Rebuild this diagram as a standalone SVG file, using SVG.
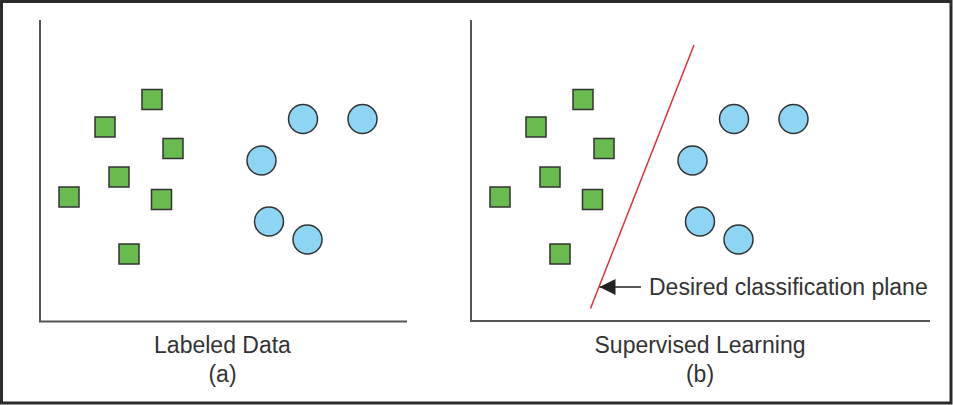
<svg xmlns="http://www.w3.org/2000/svg" width="953" height="405" viewBox="0 0 953 405">
<defs>
<style>
.frame{fill:#fff;stroke:#2b2b2b;stroke-width:3}
.axis{fill:none;stroke:#555;stroke-width:2}
.sq{fill:#6abb4f;stroke:#333;stroke-width:1.5}
.ci{fill:#8dd5f3;stroke:#333;stroke-width:1.5}
.lbl{font-family:"Liberation Sans",Arial,sans-serif;font-size:23px;fill:#333}
.sep{fill:none;stroke:#e0303a;stroke-width:1.5}
.ptr{fill:none;stroke:#222;stroke-width:1.5}
</style>
<marker id="ah" viewBox="0 0 10 10" refX="10" refY="5" markerWidth="10" markerHeight="10" markerUnits="userSpaceOnUse" orient="auto">
<path d="M0,0 L10,5 L0,10 Z" fill="#222"/>
</marker>
<marker id="ahb" viewBox="0 0 16 16" refX="16" refY="8" markerWidth="16" markerHeight="16" markerUnits="userSpaceOnUse" orient="auto">
<path d="M0,0 L16,8 L0,16 Z" fill="#222"/>
</marker>
</defs>
<rect class="frame" x="1.5" y="1.5" width="949.5" height="401.5"/>

<g id="panel-a">
<g id="axes-a"><path class="axis" d="M40,20 V321.5 H407"/></g>
<g id="a-sq1"><rect class="sq" x="142" y="89.5" width="20" height="20"/></g>
<g id="a-sq2"><rect class="sq" x="95" y="117" width="20" height="20"/></g>
<g id="a-sq3"><rect class="sq" x="163" y="138.5" width="20" height="20"/></g>
<g id="a-sq4"><rect class="sq" x="109" y="167" width="20" height="20"/></g>
<g id="a-sq5"><rect class="sq" x="59" y="187" width="20" height="20"/></g>
<g id="a-sq6"><rect class="sq" x="151.5" y="189.5" width="20" height="20"/></g>
<g id="a-sq7"><rect class="sq" x="119" y="244" width="20" height="20"/></g>
<g id="a-c1"><circle class="ci" cx="303" cy="119" r="14.5"/></g>
<g id="a-c2"><circle class="ci" cx="362.5" cy="119" r="14.5"/></g>
<g id="a-c3"><circle class="ci" cx="261.5" cy="160.5" r="14.5"/></g>
<g id="a-c4"><circle class="ci" cx="269" cy="221.5" r="14.5"/></g>
<g id="a-c5"><circle class="ci" cx="307.5" cy="239.5" r="14.5"/></g>
<text class="lbl" x="222.5" y="353" text-anchor="middle">Labeled Data</text>
<text class="lbl" x="222.5" y="382" text-anchor="middle">(a)</text>
</g>

<g id="panel-b">
<g id="axes-b"><path class="axis" d="M471,20 V321 H930"/></g>
<g id="b-sq1"><rect class="sq" x="573" y="89.5" width="20" height="20"/></g>
<g id="b-sq2"><rect class="sq" x="526" y="117" width="20" height="20"/></g>
<g id="b-sq3"><rect class="sq" x="594" y="138.5" width="20" height="20"/></g>
<g id="b-sq4"><rect class="sq" x="540" y="167" width="20" height="20"/></g>
<g id="b-sq5"><rect class="sq" x="490" y="187" width="20" height="20"/></g>
<g id="b-sq6"><rect class="sq" x="582.5" y="189.5" width="20" height="20"/></g>
<g id="b-sq7"><rect class="sq" x="550" y="244" width="20" height="20"/></g>
<g id="b-c1"><circle class="ci" cx="734" cy="119" r="14.5"/></g>
<g id="b-c2"><circle class="ci" cx="793.5" cy="119" r="14.5"/></g>
<g id="b-c3"><circle class="ci" cx="692.5" cy="160.5" r="14.5"/></g>
<g id="b-c4"><circle class="ci" cx="700" cy="221.5" r="14.5"/></g>
<g id="b-c5"><circle class="ci" cx="738.5" cy="239.5" r="14.5"/></g>
<g id="plane"><line class="sep" x1="694" y1="45" x2="590.5" y2="308.5"/></g>
<g id="connectors"><line class="ptr" x1="641" y1="287" x2="599.5" y2="287" marker-end="url(#ahb)"/></g>
<text class="lbl" x="649" y="295">Desired classification plane</text>
<text class="lbl" x="700" y="353" text-anchor="middle">Supervised Learning</text>
<text class="lbl" x="700" y="382" text-anchor="middle">(b)</text>
</g>
</svg>
